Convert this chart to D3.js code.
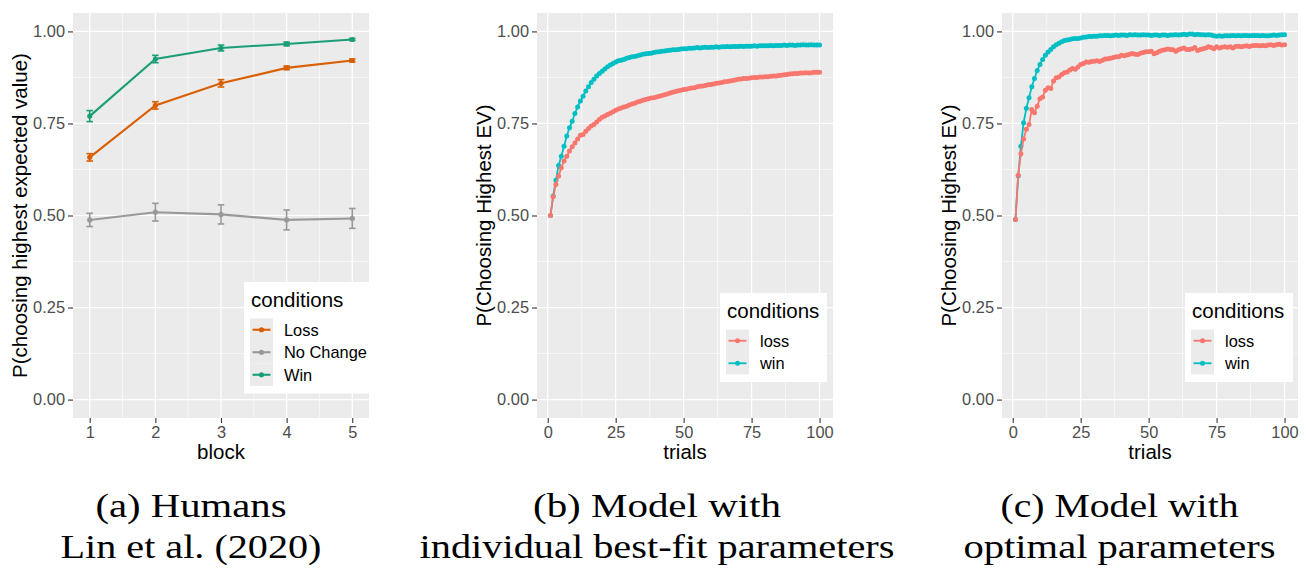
<!DOCTYPE html>
<html>
<head>
<meta charset="utf-8">
<script src="https://cdn.jsdelivr.net/npm/d3@7"></script>
<style>
  body { margin: 0; background: #fff; }
  text { font-family: "Liberation Sans", Arial, sans-serif; }
  .tick text { fill: #4d4d4d; font-size: 16.4px; }
  .tick line { stroke: #333; stroke-width: 1.1px; }
  .caption { font-family: "Liberation Serif", "Times New Roman", serif; fill: #000; }
</style>
</head>
<body>
<div id="chart-area"></div>
<script>
// ---- data ----
var blocks = [1, 2, 3, 4, 5];
var humanConditions = ["Loss", "No Change", "Win"];
var humanLoss = [0.658, 0.799, 0.859, 0.901, 0.921];
var humanLossSe = [0.010, 0.010, 0.010, 0.005, 0.004];
var humanNoChange = [0.488, 0.509, 0.503, 0.488, 0.492];
var humanNoChangeSe = [0.018, 0.024, 0.026, 0.027, 0.027];
var humanWin = [0.770, 0.925, 0.955, 0.966, 0.978];
var humanWinSe = [0.015, 0.010, 0.008, 0.005, 0.003];

var modelConditions = ["loss", "win"];
var trials = d3.range(1, 101);

// (b) individual best-fit parameters
var fitLoss = [
  0.500, 0.551, 0.584, 0.607, 0.630, 0.648, 0.661, 0.675, 0.687, 0.697,
  0.708, 0.718, 0.720, 0.729, 0.736, 0.743, 0.747, 0.754, 0.761, 0.767,
  0.770, 0.774, 0.778, 0.782, 0.786, 0.789, 0.792, 0.795, 0.797, 0.800,
  0.803, 0.805, 0.808, 0.810, 0.813, 0.815, 0.817, 0.819, 0.820, 0.822,
  0.824, 0.826, 0.828, 0.830, 0.833, 0.835, 0.837, 0.839, 0.840, 0.842,
  0.843, 0.845, 0.846, 0.847, 0.850, 0.851, 0.852, 0.853, 0.855, 0.856,
  0.857, 0.859, 0.860, 0.861, 0.863, 0.864, 0.865, 0.867, 0.868, 0.870,
  0.871, 0.872, 0.872, 0.873, 0.874, 0.875, 0.875, 0.876, 0.876, 0.877,
  0.877, 0.878, 0.879, 0.879, 0.880, 0.881, 0.882, 0.883, 0.884, 0.885,
  0.886, 0.886, 0.887, 0.887, 0.888, 0.887, 0.888, 0.889, 0.889, 0.889
];
var fitWin = [
  0.500, 0.553, 0.596, 0.636, 0.661, 0.688, 0.716, 0.738, 0.756, 0.777,
  0.795, 0.811, 0.824, 0.838, 0.850, 0.861, 0.870, 0.879, 0.886, 0.892,
  0.898, 0.904, 0.909, 0.913, 0.917, 0.920, 0.922, 0.924, 0.927, 0.929,
  0.931, 0.932, 0.934, 0.936, 0.938, 0.939, 0.940, 0.941, 0.943, 0.944,
  0.945, 0.946, 0.947, 0.948, 0.949, 0.950, 0.950, 0.951, 0.952, 0.953,
  0.953, 0.954, 0.954, 0.955, 0.956, 0.955, 0.956, 0.957, 0.956, 0.957,
  0.957, 0.958, 0.957, 0.958, 0.958, 0.959, 0.958, 0.959, 0.959, 0.959,
  0.960, 0.959, 0.960, 0.960, 0.960, 0.961, 0.960, 0.961, 0.961, 0.961,
  0.961, 0.962, 0.961, 0.962, 0.962, 0.962, 0.963, 0.962, 0.963, 0.963,
  0.962, 0.963, 0.963, 0.964, 0.963, 0.963, 0.964, 0.963, 0.963, 0.963
];

// (c) optimal parameters
var optLoss = [
  0.489, 0.609, 0.668, 0.708, 0.734, 0.747, 0.788, 0.779, 0.797, 0.817,
  0.822, 0.840, 0.847, 0.845, 0.865, 0.874, 0.876, 0.883, 0.888, 0.890,
  0.895, 0.899, 0.897, 0.903, 0.910, 0.913, 0.917, 0.916, 0.918, 0.919,
  0.920, 0.918, 0.922, 0.925, 0.926, 0.927, 0.929, 0.931, 0.931, 0.935,
  0.934, 0.936, 0.938, 0.940, 0.938, 0.937, 0.941, 0.943, 0.945, 0.945,
  0.946, 0.939, 0.942, 0.946, 0.949, 0.950, 0.952, 0.951, 0.950, 0.946,
  0.950, 0.953, 0.955, 0.951, 0.951, 0.953, 0.956, 0.948, 0.951, 0.953,
  0.955, 0.958, 0.956, 0.953, 0.958, 0.955, 0.957, 0.958, 0.957, 0.958,
  0.955, 0.959, 0.960, 0.958, 0.960, 0.961, 0.959, 0.961, 0.962, 0.962,
  0.961, 0.962, 0.961, 0.963, 0.964, 0.962, 0.964, 0.965, 0.963, 0.964
];
var optWin = [
  0.489, 0.607, 0.688, 0.752, 0.791, 0.820, 0.850, 0.872, 0.894, 0.910,
  0.924, 0.935, 0.944, 0.951, 0.958, 0.964, 0.968, 0.972, 0.975, 0.977,
  0.978, 0.980, 0.981, 0.981, 0.982, 0.984, 0.985, 0.986, 0.986, 0.987,
  0.987, 0.988, 0.988, 0.989, 0.989, 0.988, 0.989, 0.990, 0.989, 0.990,
  0.990, 0.989, 0.991, 0.990, 0.991, 0.990, 0.990, 0.991, 0.990, 0.990,
  0.989, 0.990, 0.990, 0.989, 0.990, 0.990, 0.989, 0.990, 0.990, 0.991,
  0.990, 0.991, 0.992, 0.991, 0.993, 0.993, 0.991, 0.992, 0.991, 0.991,
  0.990, 0.991, 0.990, 0.988, 0.987, 0.988, 0.987, 0.988, 0.988, 0.988,
  0.989, 0.988, 0.989, 0.988, 0.989, 0.989, 0.988, 0.989, 0.989, 0.989,
  0.988, 0.989, 0.988, 0.988, 0.989, 0.990, 0.989, 0.990, 0.991, 0.991
];

var yTicks = [0, 0.25, 0.5, 0.75, 1];
var yMinor = [0.125, 0.375, 0.625, 0.875];
var captionLines = [
  ["(a) Humans", "Lin et al. (2020)"],
  ["(b) Model with", "individual best-fit parameters"],
  ["(c) Model with", "optimal parameters"]
];

// ---- layout ----
var width = 1306, height = 569;
var panelTop = 13, panelBottom = 418;

var svg = d3.select("#chart-area").append("svg")
    .attr("width", width)
    .attr("height", height);

var y = d3.scaleLinear().domain([-0.05, 1.05]).range([panelBottom, panelTop]);

function zipSeries(xs, ys, se) {
    return xs.map(function(x, i) {
        return {x: x, y: ys[i], se: se ? se[i] : 0};
    });
}

var humanSeries = [
    {name: "Loss", color: "#D95F02", values: zipSeries(blocks, humanLoss, humanLossSe)},
    {name: "No Change", color: "#999999", values: zipSeries(blocks, humanNoChange, humanNoChangeSe)},
    {name: "Win", color: "#1B9E77", values: zipSeries(blocks, humanWin, humanWinSe)}
];
var fitSeries = [
    {name: "win", color: "#00BFC4", values: zipSeries(trials, fitWin)},
    {name: "loss", color: "#F8766D", values: zipSeries(trials, fitLoss)}
];
var optSeries = [
    {name: "win", color: "#00BFC4", values: zipSeries(trials, optWin)},
    {name: "loss", color: "#F8766D", values: zipSeries(trials, optLoss)}
];

var panels = [
    {left: 73, right: 369, domain: [0.745, 5.255], xTicks: blocks, xMinor: [1.5, 2.5, 3.5, 4.5],
     xTitle: "block", yTitle: "P(choosing highest expected value)", yTitleX: 26.5,
     series: humanSeries, errorbars: true, lineW: 2.1, r: 2.6,
     legend: {x: 244, y: 282, w: 125, names: humanConditions}},
    {left: 537, right: 833, domain: [-3.95, 104.95], xTicks: [0, 25, 50, 75, 100], xMinor: [12.5, 37.5, 62.5, 87.5],
     xTitle: "trials", yTitle: "P(Choosing Highest EV)", yTitleX: 490.5,
     series: fitSeries, errorbars: false, lineW: 1.8, r: 2.5,
     legend: {x: 720, y: 293, w: 107, names: modelConditions}},
    {left: 1002, right: 1298, domain: [-3.95, 104.95], xTicks: [0, 25, 50, 75, 100], xMinor: [12.5, 37.5, 62.5, 87.5],
     xTitle: "trials", yTitle: "P(Choosing Highest EV)", yTitleX: 956,
     series: optSeries, errorbars: false, lineW: 1.8, r: 2.5,
     legend: {x: 1185, y: 293, w: 108, names: modelConditions}}
];

panels.forEach(drawPanel);

function drawPanel(p) {
    var g = svg.append("g");
    var x = d3.scaleLinear().domain(p.domain).range([p.left, p.right]);

    // grey panel background
    g.append("rect")
        .attr("x", p.left).attr("y", panelTop)
        .attr("width", p.right - p.left).attr("height", panelBottom - panelTop)
        .attr("fill", "#EBEBEB");

    // minor then major grid lines
    g.selectAll(".ymin").data(yMinor).enter().append("line")
        .attr("x1", p.left).attr("x2", p.right)
        .attr("y1", function(d) { return y(d); }).attr("y2", function(d) { return y(d); })
        .attr("stroke", "#fff").attr("stroke-width", 0.6);
    g.selectAll(".xmin").data(p.xMinor).enter().append("line")
        .attr("y1", panelTop).attr("y2", panelBottom)
        .attr("x1", function(d) { return x(d); }).attr("x2", function(d) { return x(d); })
        .attr("stroke", "#fff").attr("stroke-width", 0.6);
    g.selectAll(".ymaj").data(yTicks).enter().append("line")
        .attr("x1", p.left).attr("x2", p.right)
        .attr("y1", function(d) { return y(d); }).attr("y2", function(d) { return y(d); })
        .attr("stroke", "#fff").attr("stroke-width", 1.2);
    g.selectAll(".xmaj").data(p.xTicks).enter().append("line")
        .attr("y1", panelTop).attr("y2", panelBottom)
        .attr("x1", function(d) { return x(d); }).attr("x2", function(d) { return x(d); })
        .attr("stroke", "#fff").attr("stroke-width", 1.2);

    // axes
    var yAxis = g.append("g")
        .attr("transform", "translate(" + p.left + ",0)")
        .call(d3.axisLeft(y).tickValues(yTicks).tickFormat(d3.format(".2f")).tickSize(5).tickPadding(3));
    yAxis.select(".domain").remove();

    var xAxis = g.append("g")
        .attr("transform", "translate(0," + panelBottom + ")")
        .call(d3.axisBottom(x).tickValues(p.xTicks).tickFormat(d3.format("d")).tickSize(5).tickPadding(3));
    xAxis.select(".domain").remove();

    // axis titles
    g.append("text")
        .attr("x", (p.left + p.right) / 2).attr("y", 459)
        .attr("text-anchor", "middle")
        .style("font-size", "20.5px")
        .text(p.xTitle);
    g.append("text")
        .attr("transform", "translate(" + p.yTitleX + "," + (panelTop + panelBottom) / 2 + ") rotate(-90)")
        .attr("text-anchor", "middle")
        .style("font-size", "20.5px")
        .text(p.yTitle);

    var line = d3.line()
        .x(function(d) { return x(d.x); })
        .y(function(d) { return y(d.y); });

    p.series.forEach(function(s) {
        var sg = g.append("g");
        if (p.errorbars) {
            var eb = sg.selectAll(".eb").data(s.values).enter().append("g");
            eb.append("line")
                .attr("x1", function(d) { return x(d.x); }).attr("x2", function(d) { return x(d.x); })
                .attr("y1", function(d) { return y(d.y - d.se); }).attr("y2", function(d) { return y(d.y + d.se); });
            eb.append("line")
                .attr("x1", function(d) { return x(d.x - 0.05); }).attr("x2", function(d) { return x(d.x + 0.05); })
                .attr("y1", function(d) { return y(d.y - d.se); }).attr("y2", function(d) { return y(d.y - d.se); });
            eb.append("line")
                .attr("x1", function(d) { return x(d.x - 0.05); }).attr("x2", function(d) { return x(d.x + 0.05); })
                .attr("y1", function(d) { return y(d.y + d.se); }).attr("y2", function(d) { return y(d.y + d.se); });
            eb.selectAll("line").attr("stroke", s.color).attr("stroke-width", 1.6);
        }
        sg.append("path")
            .datum(s.values)
            .attr("d", line)
            .attr("fill", "none")
            .attr("stroke", s.color)
            .attr("stroke-width", p.lineW);
        sg.selectAll("circle").data(s.values).enter().append("circle")
            .attr("cx", function(d) { return x(d.x); })
            .attr("cy", function(d) { return y(d.y); })
            .attr("r", p.r)
            .attr("fill", s.color);
    });

    drawLegend(g, p);
}

function drawLegend(g, p) {
    var L = p.legend;
    var colorOf = {};
    p.series.forEach(function(s) { colorOf[s.name] = s.color; });
    var keyW = 23, keyH = 22.5;

    g.append("rect")
        .attr("x", L.x).attr("y", L.y)
        .attr("width", L.w).attr("height", 36.5 + L.names.length * keyH + 7.5)
        .attr("fill", "#fff");
    g.append("text")
        .attr("x", L.x + 7).attr("y", L.y + 24.5)
        .style("font-size", "20.5px")
        .text("conditions");

    var items = g.selectAll(".key").data(L.names).enter().append("g")
        .attr("transform", function(d, i) { return "translate(" + (L.x + 6) + "," + (L.y + 36.5 + i * keyH) + ")"; });
    items.append("rect")
        .attr("width", keyW).attr("height", keyH)
        .attr("fill", "#EBEBEB");
    items.append("line")
        .attr("x1", 2.5).attr("x2", keyW - 2.5)
        .attr("y1", keyH / 2).attr("y2", keyH / 2)
        .attr("stroke", function(d) { return colorOf[d]; })
        .attr("stroke-width", p.lineW);
    items.append("circle")
        .attr("cx", keyW / 2).attr("cy", keyH / 2).attr("r", p.r)
        .attr("fill", function(d) { return colorOf[d]; });
    items.append("text")
        .attr("x", 34).attr("y", keyH / 2)
        .attr("dy", "0.36em")
        .style("font-size", "16.4px")
        .text(function(d) { return d; });
}

// sub-figure captions (LaTeX style)
var captionCenters = [191, 657, 1119.5];
var captionWidths = [[191, 261], [248, 475], [238, 312]];
captionLines.forEach(function(lines, i) {
    lines.forEach(function(t, j) {
        svg.append("text")
            .attr("class", "caption")
            .attr("x", captionCenters[i])
            .attr("y", j === 0 ? 517 : 558)
            .attr("text-anchor", "middle")
            .attr("textLength", captionWidths[i][j])
            .attr("lengthAdjust", "spacingAndGlyphs")
            .style("font-size", "33px")
            .text(t);
    });
});
</script>
</body>
</html>
